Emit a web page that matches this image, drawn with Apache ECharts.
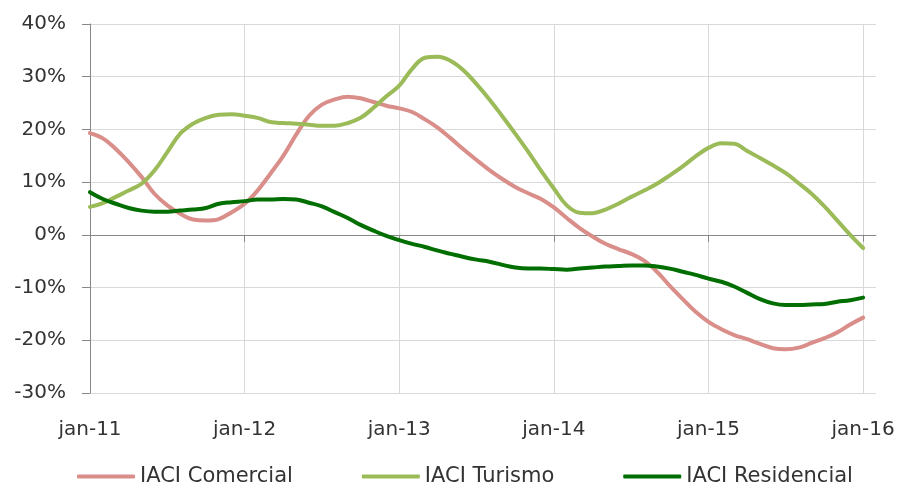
<!DOCTYPE html>
<html>
<head>
<meta charset="utf-8">
<script src="https://cdn.jsdelivr.net/npm/echarts@6/dist/echarts.min.js"></script>
<style>html,body{margin:0;padding:0;background:#fff}#c{width:906px;height:485px}</style>
</head>
<body>
<div id="c"></div>
<script>
var monthNames = ['jan','fev','mar','abr','mai','jun','jul','ago','set','out','nov','dez'];
var years = ['11','12','13','14','15','16'];
var categories = [];
years.forEach(function (y) { monthNames.forEach(function (m) { categories.push(m + '-' + y); }); });
categories = categories.slice(0, 62); // jan-11 .. fev-16

var seriesNames = ['IACI Comercial', 'IACI Turismo', 'IACI Residencial'];

var comercial = [19.3,18.3,16.3,13.8,11.0,7.8,5.6,4.0,2.9,2.7,3.0,4.3,
  5.9,8.4,11.6,15.0,19.0,22.6,24.7,25.7,26.2,25.9,25.2,24.5,
  24.0,23.3,21.9,20.3,18.3,16.2,14.2,12.3,10.6,9.1,7.9,6.8,
  5.2,3.2,1.3,-0.3,-1.7,-2.7,-3.6,-4.9,-7.0,-9.7,-12.2,-14.6,
  -16.5,-17.9,-19.0,-19.8,-20.7,-21.5,-21.7,-21.4,-20.5,-19.6,-18.5,-17.0,
  -15.7];
var turismo = [5.3,6.0,7.2,8.4,9.7,12.2,15.7,19.2,21.1,22.2,22.8,22.9,
  22.6,22.2,21.4,21.2,21.1,20.9,20.7,20.7,21.2,22.2,24.1,26.3,
  28.3,31.5,33.6,33.8,33.0,31.2,28.6,25.7,22.5,19.2,15.8,12.2,
  8.8,5.6,4.2,4.1,4.8,5.9,7.2,8.4,9.7,11.3,13.0,14.9,
  16.5,17.4,17.3,15.9,14.6,13.2,11.7,9.8,7.8,5.4,2.7,0.0,
  -2.5];
var residencial = [8.1,6.8,5.9,5.1,4.6,4.4,4.4,4.6,4.8,5.1,5.9,6.2,
  6.4,6.7,6.7,6.8,6.7,6.1,5.4,4.3,3.2,1.9,0.8,-0.2,
  -1.0,-1.7,-2.3,-3.0,-3.6,-4.2,-4.7,-5.1,-5.7,-6.2,-6.4,-6.4,
  -6.5,-6.6,-6.4,-6.2,-6.0,-5.9,-5.8,-5.8,-6.0,-6.4,-7.0,-7.6,
  -8.3,-8.9,-9.8,-11.0,-12.2,-13.0,-13.3,-13.3,-13.2,-13.1,-12.7,-12.4,
  -11.9];

var colors = ['#D98E8A', '#9BBB59', '#006E00'];
var FONT = 'DejaVu Sans';
var yearTick = function (i) { return i % 12 === 0; };

var chart = echarts.init(document.getElementById('c'), null, { renderer: 'canvas' });
chart.setOption({
  animation: false,
  backgroundColor: '#ffffff',
  grid: { left: 90, right: 30, top: 24, bottom: 92, containLabel: false },
  legend: {
    left: 72, top: 461,
    itemWidth: 58, itemHeight: 4, itemGap: 69,
    icon: 'roundRect',
    textStyle: { fontFamily: FONT, fontSize: 21, color: '#333333' },
    data: seriesNames
  },
  xAxis: [
    {
      type: 'category', data: categories, boundaryGap: false, position: 'bottom',
      axisLine: { show: false, onZero: false },
      axisTick: { show: false },
      axisLabel: { interval: yearTick, margin: 27, fontFamily: FONT, fontSize: 20, color: '#333333' },
      splitLine: { show: true, interval: function (i) { return i % 12 === 0 && i > 0; }, lineStyle: { color: '#D9D9D9', width: 1 } }
    },
    {
      type: 'category', data: categories, boundaryGap: false, position: 'bottom',
      axisLine: { show: true, onZero: true, lineStyle: { color: '#888888', width: 1 } },
      axisTick: { show: true, interval: yearTick, length: 7, lineStyle: { color: '#888888' } },
      axisLabel: { show: false },
      splitLine: { show: false }
    }
  ],
  yAxis: {
    type: 'value', min: -30, max: 40, interval: 10,
    axisLine: { show: true, onZero: false, lineStyle: { color: '#888888', width: 1 } },
    axisTick: { show: true, length: 8, lineStyle: { color: '#888888' } },
    axisLabel: { formatter: '{value}%', margin: 24, fontFamily: FONT, fontSize: 20, color: '#333333' },
    splitLine: { show: true, lineStyle: { color: '#D9D9D9', width: 1 } }
  },
  series: [
    { name: seriesNames[0], type: 'line', data: comercial, smooth: 0.4, showSymbol: false, color: colors[0], lineStyle: { width: 4, color: colors[0], cap: 'round' } },
    { name: seriesNames[1], type: 'line', data: turismo, smooth: 0.4, showSymbol: false, color: colors[1], lineStyle: { width: 4, color: colors[1], cap: 'round' } },
    { name: seriesNames[2], type: 'line', data: residencial, smooth: 0.4, showSymbol: false, color: colors[2], lineStyle: { width: 4, color: colors[2], cap: 'round' } }
  ]
});
</script>
</body>
</html>
